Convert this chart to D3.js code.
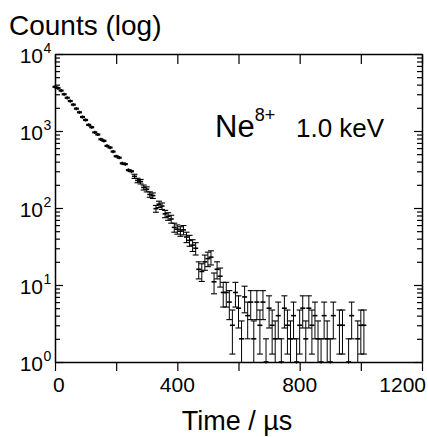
<!DOCTYPE html>
<html>
<head>
<meta charset="utf-8">
<script src="https://cdn.jsdelivr.net/npm/d3@7"></script>
<style>
  body { margin: 0; background: #fff; }
  svg { display: block; }
  text { font-family: "Liberation Sans", Arial, Helvetica, sans-serif; fill: #000; }
</style>
</head>
<body>
<script>
// time bins (µs) and counts
var times = [
    0, 10, 20, 30, 40, 50, 60, 70, 80, 90,
    100, 110, 120, 130, 140, 150, 160, 170, 180, 190,
    200, 210, 220, 230, 240, 250, 260, 270, 280, 290,
    300, 310, 320, 330, 340, 350, 360, 370, 380, 390,
    400, 410, 420, 430, 440, 450, 460, 470, 480, 490,
    500, 510, 520, 530, 540, 550, 560, 570, 580, 590,
    600, 610, 620, 630, 640, 650, 660, 670, 680, 690,
    700, 710, 720, 730, 740, 750, 760, 770, 780, 790,
    800, 810, 820, 830, 840, 850, 860, 870, 880, 890,
    900, 910, 920, 930, 940, 950, 960, 970, 980, 990,
    1000, 1010, 1020
];
var counts = [
    3750, 3600, 3350, 3000, 2700, 2450, 2200, 1950, 1750, 1520,
    1390, 1200, 1120, 960, 900, 780, 745, 640, 610, 540,
    470, 450, 380, 372, 310, 300, 258, 228, 220, 185,
    175, 150, 145, 98, 112, 106, 84, 78, 72, 56,
    53, 50, 52, 42, 38, 33, 30, 16, 15, 20,
    22, 23, 11, 16, 13, 8, 8, 6, 3, 8,
    5, 2, 7, 4, 6, 2, 6, 3, 6, 1,
    5, 3, 2, 4, 1, 5, 3, 2, 4, 1,
    3, 5, 2, 5, 3, 4, 2, 1, 4, 2,
    1, 4, 0, 3, 3, 0, 1, 4, 0, 2,
    3, 3, 0
];
var xTickValues = [0, 200, 400, 600, 800, 1000, 1200];
var xLabelValues = [0, 400, 800, 1200];
var yDecades = [0, 1, 2, 3, 4];

var width = 428, height = 437;
var x = d3.scaleLinear().domain([0, 1200]).range([55, 422]);
var y = d3.scaleLog().domain([1, 1e4]).range([362, 54]);

var svg = d3.select("body").append("svg")
    .attr("width", width).attr("height", height);

// frame / axes
function styleAxis(g) {
    g.selectAll("path").attr("stroke", "#000").attr("stroke-width", 1.5);
    g.selectAll("line").attr("stroke", "#000").attr("stroke-width", 1.2);
    g.selectAll("text").remove();
}

svg.append("g").attr("transform", "translate(0,362)")
    .call(d3.axisBottom(x).tickValues(xTickValues).tickSize(9).tickSizeOuter(0))
    .call(styleAxis);
svg.append("g").attr("transform", "translate(0,54)")
    .call(d3.axisBottom(x).tickValues(xTickValues).tickSize(10).tickSizeOuter(0))
    .call(styleAxis);

var isDecade = function(v) { return Math.abs(Math.log10(v) - Math.round(Math.log10(v))) < 1e-9; };

var left = svg.append("g").attr("transform", "translate(55,0)")
    .call(d3.axisRight(y).tickValues(y.ticks()).tickSize(5).tickSizeOuter(0))
    .call(styleAxis);
left.selectAll(".tick line").filter(isDecade).attr("x2", 8);

var right = svg.append("g").attr("transform", "translate(422,0)")
    .call(d3.axisLeft(y).tickValues(y.ticks()).tickSize(5).tickSizeOuter(0))
    .call(styleAxis);
right.selectAll(".tick line").filter(isDecade).attr("x2", -8);

// tick labels (kept inside the picture at both ends)
svg.selectAll(".xlab").data(xLabelValues).enter().append("text")
    .attr("class", "xlab")
    .attr("y", 392)
    .attr("font-size", 21)
    .attr("text-anchor", "middle")
    .text(function(d) { return d; })
    .attr("x", function(d) {
        var w = this.getComputedTextLength();
        var cx = Math.min(x(d), width - 2 - w / 2);
        return Math.max(cx, x(0) - 2 + w / 2);
    });

var ylab = svg.selectAll(".ylab").data(yDecades).enter().append("g").attr("class", "ylab");
ylab.append("text")
    .attr("x", 43).attr("y", function(d) { return y(Math.pow(10, d)) + 9; })
    .attr("font-size", 21).attr("text-anchor", "end")
    .text("10");
ylab.append("text")
    .attr("x", 43.5).attr("y", function(d) { return y(Math.pow(10, d)) - 1; })
    .attr("font-size", 14)
    .text(function(d) { return d; });

// data with sqrt(N) error bars
var pts = times.map(function(t, i) { return { t: t, c: counts[i] }; })
    .filter(function(d) { return d.c > 0; });

var pg = svg.append("g").attr("stroke", "#000").attr("fill", "none");
pts.forEach(function(d) {
    var e = Math.sqrt(d.c);
    var px = x(d.t), py = y(d.c);
    var yHi = y(d.c + e);
    var lo = d.c - e;
    var yLo = lo >= 1 ? y(lo) : y(1);
    var big = (py - yHi) > 2;
    pg.append("line").attr("x1", px).attr("x2", px)
        .attr("y1", Math.min(yHi, py - 1.6)).attr("y2", Math.max(yLo, py + 1.6))
        .attr("stroke-width", big ? 1 : 1.5);
    if (big) {
        pg.append("line").attr("x1", px - 3).attr("x2", px + 3).attr("y1", yHi).attr("y2", yHi)
            .attr("stroke-width", 1.1);
        if (lo >= 1) {
            pg.append("line").attr("x1", px - 3).attr("x2", px + 3).attr("y1", yLo).attr("y2", yLo)
                .attr("stroke-width", 1.1);
        }
    }
    pg.append("line").attr("x1", px - 2.5).attr("x2", px + 2.5).attr("y1", py).attr("y2", py)
        .attr("stroke-width", big ? 1.6 : 2.2);
});

// titles
svg.append("text").attr("x", 9).attr("y", 35).attr("font-size", 28).text("Counts (log)");
svg.append("text").attr("x", 237).attr("y", 430).attr("font-size", 27)
    .attr("text-anchor", "middle").text("Time / µs");

var lab = svg.append("text").attr("x", 215).attr("y", 137);
lab.append("tspan").attr("font-size", 31).text("Ne");
lab.append("tspan").attr("font-size", 18).attr("dy", -16).text("8+");
svg.append("text").attr("x", 296).attr("y", 137).attr("font-size", 26).text("1.0 keV");
</script>
</body>
</html>
